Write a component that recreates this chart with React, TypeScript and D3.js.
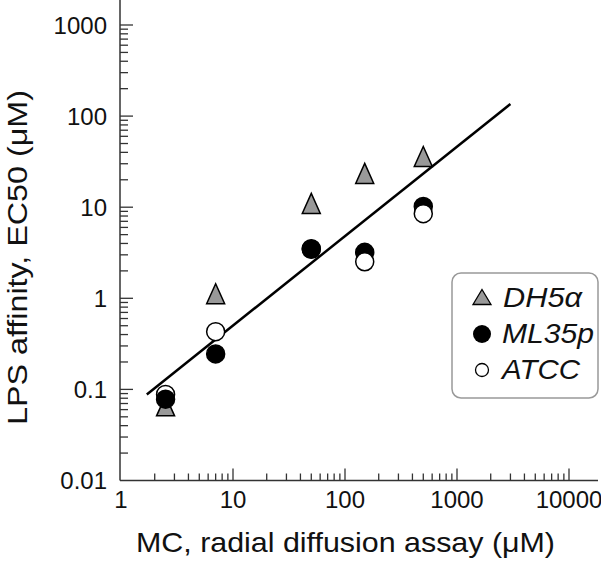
import React from "react";
import * as d3 from "d3";

const xValues = [2.5, 7, 50, 150, 500];
const dh5a = [0.066, 1.12, 11, 23.5, 36];
const ml35p = [0.078, 0.245, 3.45, 3.2, 10.2];
const atcc = [0.088, 0.43, 3.5, 2.52, 8.5];
const fitX = [1.7, 3000];
const fitY = [0.088, 136];
const xTickValues = [1, 10, 100, 1000, 10000];
const xTickLabels = ["1", "10", "100", "1000", "10000"];
const yTickValues = [0.01, 0.1, 1, 10, 100, 1000];
const yTickLabels = ["0.01", "0.1", "1", "10", "100", "1000"];
const seriesNames = ["DH5\u03b1", "ML35p", "ATCC"];

const W = 601;
const H = 564;
const FONT = "'Liberation Sans', Arial, Helvetica, sans-serif";

export default function App() {
  const x = d3.scaleLog().domain([1, 10000]).range([121, 569]);
  const y = d3.scaleLog().domain([0.01, 1000]).range([480.5, 25]);
  const x0 = 120;
  const y0 = 480.5;

  const minorX: number[] = [];
  for (let d = 1; d < 10000; d *= 10) for (let k = 2; k <= 9; k++) minorX.push(d * k);
  const minorY: number[] = [];
  for (let d = 0.01; d < 1000; d *= 10) for (let k = 2; k <= 9; k++) minorY.push(d * k);

  const line = d3
    .line<number>()
    .x((_, i) => x(fitX[i]))
    .y((_, i) => y(fitY[i]));

  const tri = (cx: number, cy: number, w: number, h: number) =>
    `M${cx},${cy - h / 2}L${cx + w / 2},${cy + h / 2}L${cx - w / 2},${cy + h / 2}Z`;

  // circles: lower marker drawn last
  const circles: { s: number; xv: number; v: number }[] = [];
  xValues.forEach((xv, i) => {
    const pair = [
      { s: 1, xv, v: ml35p[i] },
      { s: 2, xv, v: atcc[i] },
    ].sort((a, b) => b.v - a.v);
    circles.push(...pair);
  });

  return (
    <svg
      width={W}
      height={H}
      style={{ position: "absolute", left: 0, top: 0, background: "#fff" }}
      fontFamily={FONT}
    >
      <rect x={0} y={0} width={W} height={H} fill="#fff" />
      {/* axes */}
      <line x1={x0} y1={0} x2={x0} y2={y0} stroke="#333" strokeWidth={1.5} />
      <line x1={x0} y1={y0} x2={598} y2={y0} stroke="#333" strokeWidth={1.5} />
      {xTickValues.slice(1).map((v) => (
        <line key={"xM" + v} x1={x(v)} x2={x(v)} y1={y0} y2={y0 - 12} stroke="#333" strokeWidth={1.3} />
      ))}
      {minorX.map((v) => (
        <line key={"xm" + v} x1={x(v)} x2={x(v)} y1={y0} y2={y0 - 7} stroke="#333" strokeWidth={1.3} />
      ))}
      {yTickValues.slice(1).map((v) => (
        <line key={"yM" + v} x1={x0} x2={x0 + 13} y1={y(v)} y2={y(v)} stroke="#333" strokeWidth={1.3} />
      ))}
      {minorY.map((v) => (
        <line key={"ym" + v} x1={x0} x2={x0 + 8} y1={y(v)} y2={y(v)} stroke="#333" strokeWidth={1.3} />
      ))}
      {xTickValues.map((v, i) => (
        <text key={"xl" + v} x={x(v)} y={508} fontSize={24} textAnchor="middle" fill="#111">
          {xTickLabels[i]}
        </text>
      ))}
      {yTickValues.map((v, i) => (
        <text key={"yl" + v} x={107} y={y(v) + 8.5} fontSize={24} textAnchor="end" fill="#111">
          {yTickLabels[i]}
        </text>
      ))}
      <text x={136} y={552} fontSize={28} textLength={419} lengthAdjust="spacingAndGlyphs" fill="#111">
        MC, radial diffusion assay (μM)
      </text>
      <text
        transform={`translate(27,425) rotate(-90)`}
        x={0}
        y={0}
        fontSize={28}
        textLength={335}
        lengthAdjust="spacingAndGlyphs"
        fill="#111"
      >
        LPS affinity, EC50 (μM)
      </text>

      {/* fit line */}
      <path d={line([0, 1]) || ""} fill="none" stroke="#000" strokeWidth={2.5} />

      {/* data */}
      {xValues.map((xv, i) => (
        <path key={"t" + i} d={tri(x(xv), y(dh5a[i]), 18, 20)} fill="#999" stroke="#000" strokeWidth={1.5} />
      ))}
      {circles.map((c, i) => (
        <circle
          key={"c" + i}
          cx={x(c.xv)}
          cy={y(c.v)}
          r={9}
          fill={c.s === 1 ? "#000" : "#fff"}
          stroke="#000"
          strokeWidth={1.5}
        />
      ))}

      {/* legend */}
      <rect x={452} y={273} width={146} height={125} rx={9} fill="#fff" stroke="#999" strokeWidth={1.5} />
      <path d={tri(482, 297, 18, 15)} fill="#999" stroke="#000" strokeWidth={1.3} />
      <circle cx={482} cy={334} r={9} fill="#000" />
      <circle cx={482} cy={370} r={6.5} fill="#fff" stroke="#000" strokeWidth={1.3} />
      <text x={503} y={306.5} fontSize={28} fontStyle="italic" textLength={79} lengthAdjust="spacingAndGlyphs" fill="#111">
        {seriesNames[0]}
      </text>
      <text x={502} y={343} fontSize={28} fontStyle="italic" textLength={92} lengthAdjust="spacingAndGlyphs" fill="#111">
        {seriesNames[1]}
      </text>
      <text x={502} y={379} fontSize={28} fontStyle="italic" textLength={78} lengthAdjust="spacingAndGlyphs" fill="#111">
        {seriesNames[2]}
      </text>
    </svg>
  );
}
